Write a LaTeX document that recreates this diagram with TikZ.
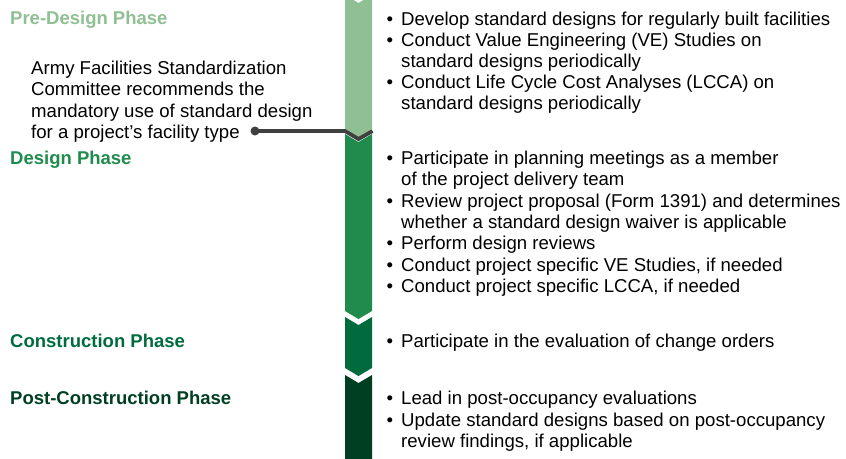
\documentclass[tikz,border=0pt]{standalone}
\usepackage{fontspec}
\setmainfont{Liberation Sans}
\definecolor{cpre}{HTML}{8FBF92}
\definecolor{cdes}{HTML}{1F8B4C}
\definecolor{ccon}{HTML}{006C3E}
\definecolor{cpost}{HTML}{003F22}
\definecolor{cline}{HTML}{404040}
\newcommand{\bul}{\makebox[0pt][r]{\textbullet\hspace{8pt}}}
\begin{document}
\begin{tikzpicture}[x=1pt,y=-1pt,
  body/.style={anchor=base west,inner sep=0pt,align=left,
    font=\fontsize{18.6}{21.3}\selectfont},
  head/.style={anchor=base west,inner sep=0pt,
    font=\fontsize{18.5}{21.3}\selectfont\bfseries},
  conn/.style={draw=cline,line width=3.8pt,line join=miter}]
\useasboundingbox (0,0) rectangle (846,458);
\begin{scope}
\clip (0,0) rectangle (846,458);
% segments
\fill[cpre] (345,-5) -- (358.5,3) -- (372,-5) -- (372,129) -- (358.5,137) -- (345,129) -- cycle;
\fill[cdes] (345,134) -- (358.5,142) -- (372,134) -- (372,311) -- (358.5,319) -- (345,311) -- cycle;
\fill[ccon] (345,317) -- (358.5,325) -- (372,317) -- (372,368) -- (358.5,376) -- (345,368) -- cycle;
\fill[cpost] (345,375) -- (358.5,383) -- (372,375) -- (372,470) -- (345,470) -- cycle;
\end{scope}
% headings
\node[head,text=cpre] (hpre) at (10,24.5) {Pre-Design Phase};
\node[head,text=cdes] (hdes) at (10,164.5) {Design Phase};
\node[head,text=ccon] (hcon) at (10,347.5) {Construction Phase};
\node[head,text=cpost] (hpost) at (10,404.5) {Post-Construction Phase};
% annotation (base anchor = last line baseline)
\node[body] (note) at (31,138.4) {Army Facilities Standardization\\Committee recommends the\\mandatory use of standard design\\for a project’s facility type};
\node[circle,fill=cline,inner sep=0pt,minimum size=9pt] (dot) at (255,131) {};
\coordinate (c1) at (345,131);
\coordinate (c2) at (358.5,139);
\coordinate (c3) at (372.5,131);
\draw[conn] (dot.center) -- (c1) -- (c2) -- (c3);
% pre-design items
\node[body] (p1) at (401,25) {\bul Develop standard designs for regularly built facilities};
\node[body] (p2) at (401,67.3) {\bul Conduct Value Engineering (VE) Studies on\\standard designs periodically};
\node[body] (p3) at (401,109.3) {\bul Conduct Life Cycle Cost Analyses (LCCA) on\\standard designs periodically};
% design items
\node[body] (d1) at (401,185.8) {\bul Participate in planning meetings as a member\\of the project delivery team};
\node[body] (d2) at (401,228.4) {\bul Review project proposal (Form 1391) and determines\\whether a standard design waiver is applicable};
\node[body] (d3) at (401,249.7) {\bul Perform design reviews};
\node[body] (d4) at (401,271) {\bul Conduct project specific VE Studies, if needed};
\node[body] (d5) at (401,292.3) {\bul Conduct project specific LCCA, if needed};
% construction
\node[body] (k1) at (401,347.5) {\bul Participate in the evaluation of change orders};
% post
\node[body] (q1) at (401,404.5) {\bul Lead in post-occupancy evaluations};
\node[body] (q2) at (401,447.3) {\bul Update standard designs based on post-occupancy\\review findings, if applicable};
\end{tikzpicture}
\end{document}
